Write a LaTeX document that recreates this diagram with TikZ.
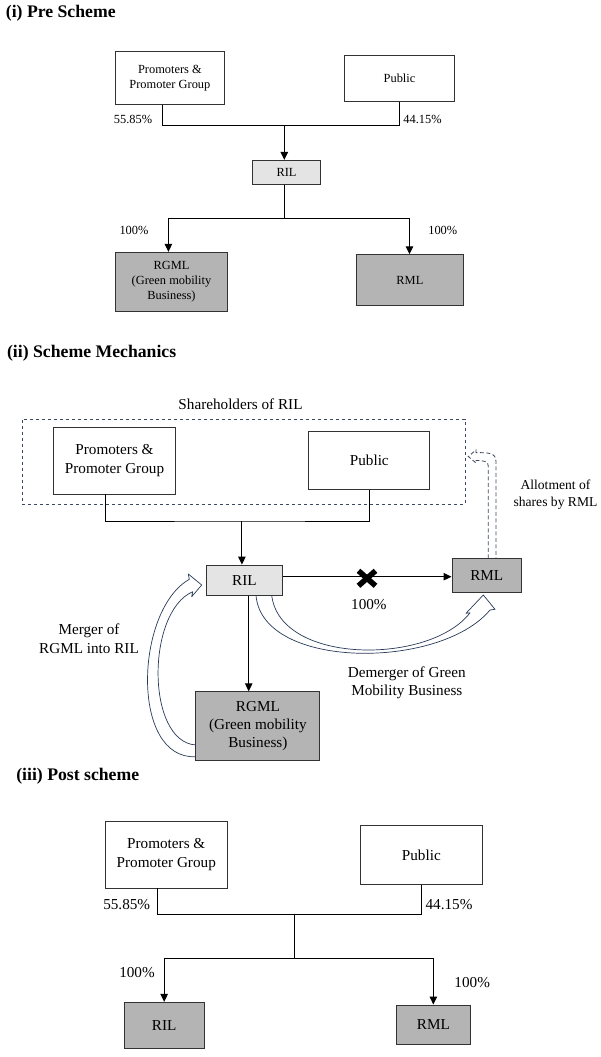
\documentclass[tikz,border=0pt]{standalone}
\usepackage{fontspec}
\setmainfont{Liberation Serif}
\usetikzlibrary{arrows.meta}
\definecolor{lgray}{RGB}{228,228,228}
\definecolor{dgray}{RGB}{180,180,180}
\definecolor{navy}{RGB}{40,58,88}
\definecolor{dashc}{RGB}{60,72,95}
\begin{document}
\begin{tikzpicture}[x=1pt,y=-1pt,
  box/.style={draw=black!80, line width=0.9pt, align=center, inner sep=0pt, text=black},
  fsa/.style={font=\fontsize{12.4}{15}\selectfont, align=center, inner sep=0pt},
  fsb/.style={font=\fontsize{15.2}{18.3}\selectfont, align=center, inner sep=0pt},
  fsc/.style={font=\fontsize{13.6}{17.6}\selectfont, align=center, inner sep=0pt},
  ttl/.style={font=\bfseries\fontsize{17.7}{21}\selectfont, anchor=west, inner sep=0pt},
  conn/.style={line width=1pt, black},
  arr/.style={conn, -{Triangle[length=8pt,width=7.5pt]}},
  hollow/.style={draw=navy, fill=white, line width=0.7pt, line join=round},
  light/.style={box, fill=lgray},
  dark/.style={box, fill=dgray}]
\useasboundingbox (0,0) rectangle (600,1057);

% ---------------- (i) Pre Scheme ----------------
\node[ttl] (t1) at (5.7,13.3) {(i) Pre Scheme};
\node[box, fsa, minimum width=109.4pt, minimum height=52.6pt] (P1) at (169.9,78) {Promoters \&\\Promoter Group};
\node[box, fsa, minimum width=109.4pt, minimum height=46.4pt] (U1) at (399.5,78.5) {Public};
\node[light, fsa, minimum width=68.5pt, minimum height=23.7pt] (R1) at (286.5,172.2) {RIL};
\node[dark, fsa, minimum width=112.5pt, minimum height=59.4pt] (G1) at (171.5,282) {RGML\\(Green mobility\\Business)};
\node[dark, fsa, minimum width=107.9pt, minimum height=50.6pt] (M1) at (409.9,280) {RML};

\coordinate (j1) at (284.3,125.3);
\draw[conn] ([xshift=-7.7pt]P1.south) |- (j1) -| (U1.south);
\draw[arr] (j1) -- (j1 |- R1.north);
\coordinate (k1) at (284.7,218.3);
\draw[conn] (k1 |- R1.south) -- (k1);
\draw[arr] (k1) -| ([xshift=-3.1pt]G1.north);
\draw[arr] (k1) -| ([xshift=-0.4pt]M1.north);

\node[fsa] (pa1) at (133,119.3) {55.85\%};
\node[fsa] (pb1) at (422.5,119.3) {44.15\%};
\node[fsa] (pc1) at (134,230.7) {100\%};
\node[fsa] (pd1) at (442.8,230.7) {100\%};

% ---------------- (ii) Scheme Mechanics ----------------
\node[ttl] (t2) at (6.9,353.3) {(ii) Scheme Mechanics};
\node[fsb] (sh) at (240.5,404.3) {Shareholders of RIL};
\node[draw=dashc, dashed, line width=0.9pt, minimum width=443.1pt, minimum height=85pt, inner sep=0pt] (grp) at (243.75,461.5) {};

% hollow arrows
\draw[hollow] (195.9,756.7) .. controls (130,760) and (135,610) .. (189.3,579.3)
  -- (188.3,574) -- (201.7,585) -- (191.7,596.7) -- (192.7,591.7)
  .. controls (146,612) and (146,742) .. (195.9,745);
\draw[hollow] (256,595.3) .. controls (262,670) and (440,670) .. (490,610)
  -- (495,609.3) -- (483.3,595) -- (466,613.3) -- (470,612.8)
  .. controls (430,665) and (280,665) .. (271.7,595.3);
\draw[draw=dashc, dashed, line width=0.8pt, dash pattern=on 4pt off 2.5pt]
  (488.3,558.3) -- (488.3,466) .. controls (488.3,461.5) and (484,460.4) .. (476,460.4)
  -- (476,463) -- (468.3,456.5) -- (476,450) -- (476,452.6)
  .. controls (490,452.6) and (496,453) .. (496,462) -- (496,558.3);

\node[box, fsb, minimum width=121.7pt, minimum height=67pt] (P2) at (114.5,460.5) {Promoters \&\\Promoter Group};
\node[box, fsb, minimum width=120.9pt, minimum height=58pt] (U2) at (369.3,460.7) {Public};
\node[light, fsb, minimum width=76.1pt, minimum height=30.3pt] (R2) at (244.4,580.2) {RIL};
\node[dark, fsb, minimum width=69.7pt, minimum height=34.4pt] (M2) at (486.8,575.5) {RML};
\node[dark, fsb, minimum width=124pt, minimum height=68.3pt] (G2) at (257.9,725.9) {RGML\\(Green mobility\\Business)};

\coordinate (j2) at (241.9,521);
\draw[conn] ([xshift=-8.9pt]P2.south) |- (j2) -| (U2.south);
\draw[arr] (j2) -- (j2 |- R2.north);
\draw[arr] ([xshift=4.3pt]R2.south) -- ([xshift=-9.2pt]G2.north);
\draw[arr] ([yshift=3.5pt]R2.east) -- ([yshift=3.5pt]R2.east -| M2.west);

\coordinate (x2) at (367,578.3);
\draw[line width=5.5pt] ([shift={(-8.5,-7.5)}]x2) -- ([shift={(8.5,7.5)}]x2);
\draw[line width=5.5pt] ([shift={(-8.5,7.5)}]x2) -- ([shift={(8.5,-7.5)}]x2);

\node[fsb] (pc2) at (368.9,605) {100\%};
\node[fsb] (mg) at (89,638.6) {Merger of\\RGML into RIL};
\node[fsb] (dm) at (406.8,682.5) {Demerger of Green\\Mobility Business};
\node[fsc] (al) at (555.5,494.5) {Allotment of\\shares by RML};

% ---------------- (iii) Post scheme ----------------
\node[ttl] (t3) at (16.1,776) {(iii) Post scheme};
\node[box, fsb, minimum width=122.1pt, minimum height=67pt] (P3) at (166.25,854.5) {Promoters \&\\Promoter Group};
\node[box, fsb, minimum width=121.7pt, minimum height=59pt] (U3) at (421.35,855.2) {Public};
\node[dark, fsb, minimum width=80.3pt, minimum height=46pt] (R3) at (164.15,1025.3) {RIL};
\node[dark, fsb, minimum width=74.7pt, minimum height=39.3pt] (M3) at (433.35,1024.65) {RML};

\coordinate (j3) at (294.3,914.3);
\draw[conn] ([xshift=-8.55pt]P3.south) |- (j3) -| (U3.south);
\coordinate (k3) at (294.3,958.3);
\draw[conn] (j3) -- (k3);
\draw[arr] (k3) -| (R3.north);
\draw[arr] (k3) -| (M3.north);

\node[fsb] (pa3) at (126.7,904.7) {55.85\%};
\node[fsb] (pb3) at (449,904.7) {44.15\%};
\node[fsb] (pc3) at (137,972.3) {100\%};
\node[fsb] (pd3) at (472.2,982.7) {100\%};
\end{tikzpicture}
\end{document}
